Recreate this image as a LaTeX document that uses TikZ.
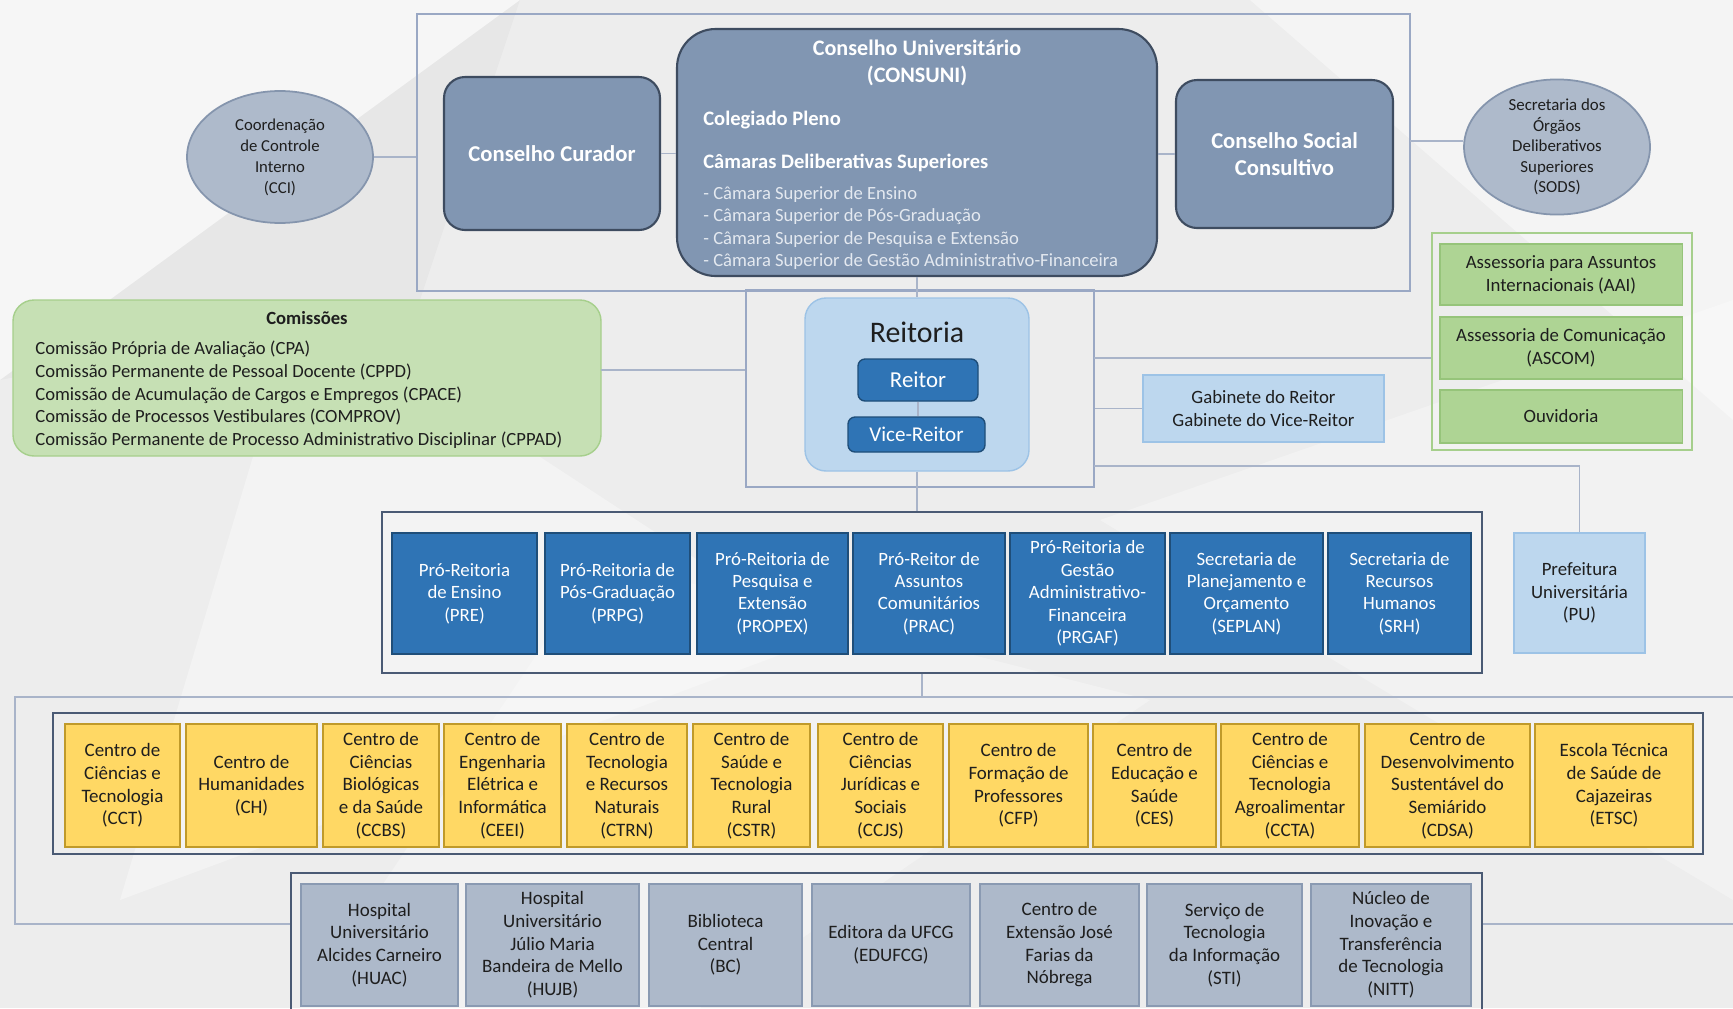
\documentclass[tikz,border=0pt]{standalone}
\usepackage{fontspec}
\setmainfont{Carlito}
\usetikzlibrary{calc,shapes.geometric}
\definecolor{bgc}{HTML}{EDEDED}
\definecolor{lineC}{HTML}{A9B4C9}
\definecolor{contL}{HTML}{9AA8C4}
\definecolor{contD}{HTML}{4A5A74}
\definecolor{councilF}{HTML}{8196B2}
\definecolor{councilB}{HTML}{3E4C60}
\definecolor{ellF}{HTML}{AEBACB}
\definecolor{ellB}{HTML}{8595AD}
\definecolor{grnF}{HTML}{C6E0B4}
\definecolor{grnB}{HTML}{A6CF8C}
\definecolor{grn2F}{HTML}{AED494}
\definecolor{grn2B}{HTML}{96C47A}
\definecolor{lbF}{HTML}{BDD7EE}
\definecolor{lbB}{HTML}{9DC3E6}
\definecolor{dbF}{HTML}{2F74B5}
\definecolor{dbB}{HTML}{1F4E79}
\definecolor{yeF}{HTML}{FFD864}
\definecolor{yeB}{HTML}{C09A2A}
\definecolor{grF}{HTML}{ADB9CA}
\definecolor{grB}{HTML}{8A9AB2}
\definecolor{txt}{HTML}{1E1E1E}
\definecolor{bul}{HTML}{E4E9F0}
% box from (x1,y1) to (x2,y2) in pixel units
\newcommand\pxbox[7]{\node[#1, minimum width={((#4)-(#2))*0.02cm}, minimum height={((#5)-(#3))*0.02cm}] (#6) at ({((#2)+(#4))/2},{((#3)+(#5))/2}) {#7};}
\begin{document}
\begin{tikzpicture}[x=0.02cm,y=-0.02cm,
  conn/.style={draw=lineC, line width=0.8pt},
  lcont/.style={draw=contL, line width=0.8pt, inner sep=0},
  dcont/.style={draw=contD, line width=1.3pt, inner sep=0},
  council/.style={draw=councilB, fill=councilF, line width=1.2pt, inner sep=0, align=center, text=white, font=\bfseries\fontsize{12.9}{15.5}\selectfont},
  ell/.style={ellipse, draw=ellB, fill=ellF, line width=1pt, inner sep=0, align=center, text=txt},
  grnbox/.style={draw=grn2B, fill=grn2F, line width=0.6pt, inner sep=0, align=center, text=txt, font=\fontsize{10.7}{13}\selectfont},
  lbbox/.style={draw=lbB, fill=lbF, line width=0.6pt, inner sep=0, align=center, text=txt, font=\fontsize{10.7}{12.9}\selectfont},
  dbbox/.style={draw=dbB, fill=dbF, line width=0.8pt, inner sep=0, align=center, text=white},
  probox/.style={dbbox, font=\fontsize{10.7}{12.8}\selectfont},
  yebox/.style={draw=yeB, fill=yeF, line width=0.8pt, inner sep=0, align=center, text=txt, font=\fontsize{10.8}{12.9}\selectfont},
  grbox/.style={draw=grB, fill=grF, line width=0.8pt, inner sep=0, align=center, text=txt, font=\fontsize{10.8}{12.9}\selectfont},
  plain/.style={inner sep=0, text=txt}
]
\useasboundingbox (0,0) rectangle (1733,1008);
\fill[bgc] (0,0) rectangle (1733,1008);
% subtle background facets
\fill[white, opacity=0.5] (0,0) -- (520,0) -- (0,380) -- cycle;
\fill[white, opacity=0.35] (300,300) -- (820,640) -- (120,900) -- cycle;
\fill[white, opacity=0.4] (1250,0) -- (1733,0) -- (1733,420) -- cycle;
\fill[white, opacity=0.3] (1100,520) -- (1733,300) -- (1733,900) -- cycle;
\fill[white, opacity=0.3] (600,560) -- (1150,700) -- (700,1008) -- (300,1008) -- cycle;
\fill[black, opacity=0.025] (0,380) -- (520,0) -- (420,300) -- cycle;

% ---------- top area ----------
\pxbox{lcont}{417}{14}{1410}{291}{topbox}{}
\pxbox{council, rounded corners=12pt}{444}{77}{660}{230}{curador}{Conselho Curador}
\pxbox{council, rounded corners=22pt}{677}{29}{1157}{276}{consuni}{}
\pxbox{council, rounded corners=12pt}{1176}{80}{1393}{228}{social}{Conselho Social\\Consultivo}
\node[plain, text=white, align=center, font=\bfseries\fontsize{12.6}{15.4}\selectfont] (cutitle) at (917,63) {Conselho Universitário\\(CONSUNI)};
\node[plain, text=white, anchor=west, font=\bfseries\fontsize{11.7}{13}\selectfont] (colegiado) at (703,120) {Colegiado Pleno};
\node[plain, text=white, anchor=west, font=\bfseries\fontsize{11.7}{13}\selectfont] (camaras) at (703,163) {Câmaras Deliberativas Superiores};
\node[plain, text=bul, anchor=west, align=left, font=\fontsize{10.6}{12.8}\selectfont] (bullets) at (703,228) {- Câmara Superior de Ensino\\- Câmara Superior de Pós-Graduação\\- Câmara Superior de Pesquisa e Extensão\\- Câmara Superior de Gestão Administrativo-Financeira};

\node[ell, minimum width=3.72cm, minimum height=2.64cm, font=\fontsize{9.5}{11.9}\selectfont] (cci) at (280,157) {Coordenação\\de Controle\\Interno\\(CCI)};
\node[ell, minimum width=3.72cm, minimum height=2.68cm, font=\fontsize{9.6}{11.6}\selectfont] (sods) at (1557,147) {Secretaria dos\\Órgãos\\Deliberativos\\Superiores\\(SODS)};

\draw[conn] (cci.east) -- (cci.east -| topbox.west);
\draw[conn] (curador.east) -- (curador.east -| consuni.west);
\draw[conn] (social.west -| consuni.east) -- (social.west);
\coordinate (sjoin) at (1410,141);
\draw[conn] (sjoin) -- (sjoin -| sods.west);

% ---------- comissoes ----------
\pxbox{draw=grnB, fill=grnF, line width=0.8pt, rounded corners=12pt, inner sep=0}{13}{300}{601}{456}{comissoes}{}
\node[plain, font=\bfseries\fontsize{10.6}{12.8}\selectfont] (comtitle) at (307,318) {Comissões};
\node[plain, anchor=west, align=left, font=\fontsize{10.6}{12.9}\selectfont] (comlist) at (35,395) {Comissão Própria de Avaliação (CPA)\\Comissão Permanente de Pessoal Docente (CPPD)\\Comissão de Acumulação de Cargos e Empregos (CPACE)\\Comissão de Processos Vestibulares (COMPROV)\\Comissão Permanente de Processo Administrativo Disciplinar (CPPAD)};

% ---------- reitoria ----------
\pxbox{lcont}{746}{290}{1094}{487}{midbox}{}
\pxbox{draw=lbB, fill=lbF, line width=0.8pt, rounded corners=12pt, inner sep=0}{805}{298}{1029}{471}{reitoria}{}
\node[plain, font=\fontsize{17}{19}\selectfont] (reitlabel) at (917,332) {Reitoria};
\pxbox{dbbox, rounded corners=4pt, font=\fontsize{13}{15}\selectfont}{858}{359}{978}{401}{reitor}{Reitor}
\pxbox{dbbox, rounded corners=4pt, font=\fontsize{12}{14}\selectfont}{848}{417}{985}{452}{vice}{Vice-Reitor}
\draw[conn] (consuni.south) -- (consuni.south |- reitoria.north);
\draw[conn] (reitor.south) -- (reitor.south |- vice.north);
\coordinate (cjoin) at (601,370);
\draw[conn] (cjoin) -- (cjoin -| midbox.west);

\pxbox{lbbox}{1143}{375}{1384}{442}{gabinete}{Gabinete do Reitor\\Gabinete do Vice-Reitor}
\draw[conn] (gabinete.west -| midbox.east) -- (gabinete.west);

\pxbox{draw=grnB, line width=0.8pt, inner sep=0}{1432}{233}{1692}{450}{greengrp}{}
\pxbox{grnbox}{1440}{244}{1682}{305}{aai}{Assessoria para Assuntos\\Internacionais (AAI)}
\pxbox{grnbox}{1440}{317}{1682}{379}{ascom}{Assessoria de Comunicação\\(ASCOM)}
\pxbox{grnbox}{1440}{390}{1682}{443}{ouv}{Ouvidoria}
\coordinate (gjoin) at (1094,358);
\draw[conn] (gjoin) -- (gjoin -| greengrp.west);

\pxbox{lbbox}{1514}{533}{1645}{653}{pu}{Prefeitura\\Universitária\\(PU)}
\coordinate (pjoin) at (1094,466);
\draw[conn] (pjoin) -| (pu.north);

% ---------- pro-reitorias ----------
\pxbox{dcont}{382}{512}{1482}{673}{procont}{}
\draw[conn] (reitoria.south) -- (reitoria.south |- procont.north);
\foreach \a/\b/\n/\t in {
  392/537/p1/{Pró-Reitoria\\de Ensino\\(PRE)},
  545/690/p2/{Pró-Reitoria de\\Pós-Graduação\\(PRPG)},
  697/848/p3/{Pró-Reitoria de\\Pesquisa e\\Extensão\\(PROPEX)},
  853/1005/p4/{Pró-Reitor de\\Assuntos\\Comunitários\\(PRAC)},
  1010/1165/p5/{Pró-Reitoria de\\Gestão\\Administrativo-\\Financeira\\(PRGAF)},
  1170/1323/p6/{Secretaria de\\Planejamento e\\Orçamento\\(SEPLAN)},
  1328/1471/p7/{Secretaria de\\Recursos\\Humanos\\(SRH)}}
  {\pxbox{probox}{\a}{533}{\b}{654}{\n}{\t}}

% ---------- connectors to lower rows ----------
\coordinate (hl) at (15,697);
\coordinate (hr) at (1733,697);
\coordinate (hm) at (922,697);
\coordinate (bl) at (15,924);
\coordinate (br) at (1733,924);

% ---------- centros ----------
\pxbox{dcont}{53}{713}{1703}{854}{centros}{}
\foreach \a/\b/\n/\t in {
  65/180/c1/{Centro de\\Ciências e\\Tecnologia\\(CCT)},
  186/317/c2/{Centro de\\Humanidades\\(CH)},
  323/439/c3/{Centro de\\Ciências\\Biológicas\\e da Saúde\\(CCBS)},
  444/561/c4/{Centro de\\Engenharia\\Elétrica e\\Informática\\(CEEI)},
  567/687/c5/{Centro de\\Tecnologia\\e Recursos\\Naturais\\(CTRN)},
  693/810/c6/{Centro de\\Saúde e\\Tecnologia\\Rural\\(CSTR)},
  818/943/c7/{Centro de\\Ciências\\Jurídicas e\\Sociais\\(CCJS)},
  949/1088/c8/{Centro de\\Formação de\\Professores\\(CFP)},
  1093/1216/c9/{Centro de\\Educação e\\Saúde\\(CES)},
  1221/1359/c10/{Centro de\\Ciências e\\Tecnologia\\Agroalimentar\\(CCTA)},
  1365/1530/c11/{Centro de\\Desenvolvimento\\Sustentável do\\Semiárido\\(CDSA)},
  1535/1693/c12/{Escola Técnica\\de Saúde de\\Cajazeiras\\(ETSC)}}
  {\pxbox{yebox}{\a}{724}{\b}{847}{\n}{\t}}

% ---------- orgaos suplementares ----------
\pxbox{dcont}{291}{873}{1482}{1030}{support}{}
\foreach \a/\b/\n/\t in {
  301/458/s1/{Hospital\\Universitário\\Alcides Carneiro\\(HUAC)},
  466/639/s2/{Hospital\\Universitário\\Júlio Maria\\Bandeira de Mello\\(HUJB)},
  649/802/s3/{Biblioteca\\Central\\(BC)},
  812/970/s4/{Editora da UFCG\\(EDUFCG)},
  980/1139/s5/{Centro de\\Extensão José\\Farias da\\Nóbrega},
  1147/1302/s6/{Serviço de\\Tecnologia\\da Informação\\(STI)},
  1311/1471/s7/{Núcleo de\\Inovação e\\Transferência\\de Tecnologia\\(NITT)}}
  {\pxbox{grbox}{\a}{884}{\b}{1006}{\n}{\t}}

\draw[conn] (hm |- procont.south) -- (hm);
\draw[conn] (hr) -- (hl) -- (bl) -- (bl -| support.west);
\draw[conn] (support.east |- br) -- (br);
\end{tikzpicture}
\end{document}
